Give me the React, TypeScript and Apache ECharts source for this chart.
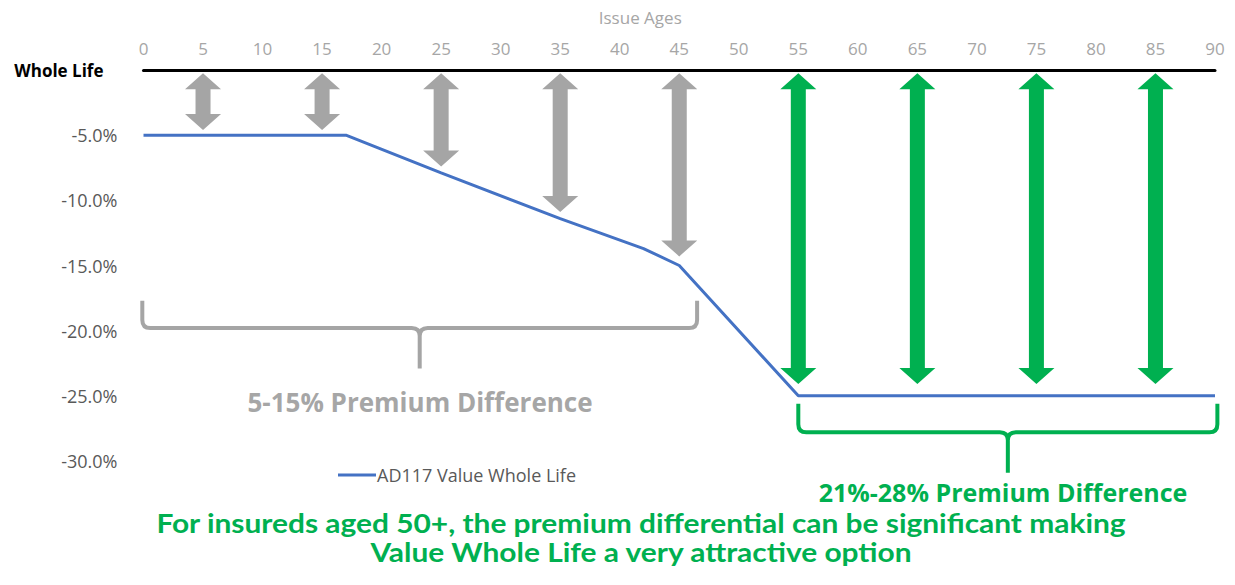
import React, { useEffect, useRef } from "react";
import * as echarts from "echarts";

// Data
const ages = [0, 17, 25, 35, 42, 45, 55, 90];
const premiumDiff = [-5, -5, -7.9, -11.4, -13.7, -15, -25, -25];
const seriesName = "AD117 Value Whole Life";

const arrowAges = [5, 15, 25, 35, 45, 55, 65, 75, 85];
const arrowTop = [-0.25, -0.25, -0.25, -0.25, -0.25, -0.25, -0.25, -0.25, -0.25];
const arrowEnd = [-4.6, -4.6, -7.4, -10.9, -14.3, -24.1, -24.1, -24.1, -24.1];
const arrowColor = ["#A5A5A5", "#A5A5A5", "#A5A5A5", "#A5A5A5", "#A5A5A5", "#00B050", "#00B050", "#00B050", "#00B050"];

// brackets: [startAge, endAge, armTop, barLevel, tipLevel]
const bracketData = [
  [-0.1, 46.5, -17.7, -19.8, -22.9],
  [55, 90.2, -25.6, -27.8, -30.9],
];
const bracketColor = ["#A5A5A5", "#00B050"];

export default function App() {
  const ref = useRef<HTMLDivElement>(null);
  useEffect(() => {
    document.body.style.margin = "0";
    const chart = echarts.init(ref.current!, null, { renderer: "svg" });
    const option: any = {
      animation: false,
      backgroundColor: "#fff",
      grid: { left: 143.5, right: 20, top: 70, bottom: 124 },
      xAxis: {
        type: "value",
        position: "top",
        min: 0,
        max: 90,
        interval: 5,
        name: "Issue Ages",
        nameLocation: "middle",
        nameGap: 44,
        nameTextStyle: { color: "#A6A6A6", fontSize: 17, fontFamily: "Open Sans", padding: [0, 78, 0, 0] },
        axisLine: { show: true, onZero: false, lineStyle: { color: "#000", width: 3 } },
        axisTick: { show: false },
        splitLine: { show: false },
        axisLabel: { color: "#A6A6A6", fontSize: 17, margin: 13, fontFamily: "Open Sans" },
      },
      yAxis: {
        type: "value",
        min: -30,
        max: 0,
        interval: 5,
        axisLine: { show: false },
        axisTick: { show: false },
        splitLine: { show: false },
        axisLabel: {
          margin: 26,
          color: "#595959",
          fontSize: 18,
          fontFamily: "Open Sans",
          formatter: (v: number) => (v === 0 ? "{wl|Whole Life}" : v.toFixed(1) + "%"),
          rich: {
            wl: { fontWeight: "bold", color: "#000", fontSize: 17, fontFamily: "Open Sans", padding: [0, 14, 0, 0] },
          },
        },
      },
      legend: {
        left: 333,
        top: 461,
        data: [seriesName],
        icon: "rect",
        itemWidth: 38,
        itemHeight: 3,
        textStyle: { color: "#595959", fontSize: 18, fontFamily: "Open Sans", padding: [0, 0, 0, -4] },
      },
      series: [
        {
          type: "custom",
          z: 1,
          silent: true,
          data: arrowAges.map((a, i) => [a, arrowTop[i], arrowEnd[i]]),
          encode: { x: 0, y: [1, 2] },
          renderItem: (params: any, api: any) => {
            const p1 = api.coord([api.value(0), api.value(1)]);
            const p2 = api.coord([api.value(0), api.value(2)]);
            const cx = p1[0], y1 = p1[1], y2 = p2[1];
            const hw = 18, sw = 7.5, hh = 16;
            const points = [
              [cx, y1], [cx + hw, y1 + hh], [cx + sw, y1 + hh], [cx + sw, y2 - hh], [cx + hw, y2 - hh],
              [cx, y2], [cx - hw, y2 - hh], [cx - sw, y2 - hh], [cx - sw, y1 + hh], [cx - hw, y1 + hh],
            ];
            return { type: "polygon", shape: { points }, style: { fill: arrowColor[params.dataIndex] } };
          },
        },
        {
          type: "custom",
          z: 1,
          silent: true,
          data: bracketData,
          encode: { x: [0, 1], y: [2, 3, 4] },
          renderItem: (params: any, api: any) => {
            const a = api.coord([api.value(0), api.value(2)]);
            const b = api.coord([api.value(1), api.value(3)]);
            const t = api.coord([(api.value(0) + api.value(1)) / 2, api.value(4)]);
            const x1 = a[0], yt = a[1], x2 = b[0], yh = b[1], xc = t[0], yb = t[1];
            const r = 8;
            const d =
              `M${x1},${yt} L${x1},${yh - r} Q${x1},${yh} ${x1 + r},${yh} L${xc - r},${yh} Q${xc},${yh} ${xc},${yh + r} L${xc},${yb} ` +
              `M${x2},${yt} L${x2},${yh - r} Q${x2},${yh} ${x2 - r},${yh} L${xc + r},${yh} Q${xc},${yh} ${xc},${yh + r}`;
            return {
              type: "path",
              shape: { pathData: d },
              style: { fill: "none", stroke: bracketColor[params.dataIndex], lineWidth: 4 },
            };
          },
        },
        {
          name: seriesName,
          type: "line",
          z: 5,
          data: ages.map((a, i) => [a, premiumDiff[i]]),
          symbol: "none",
          lineStyle: { color: "#4472C4", width: 3 },
          itemStyle: { color: "#4472C4" },
        },
      ],
      graphic: [
        {
          type: "text",
          x: 420,
          y: 402,
          style: {
            text: "5-15% Premium Difference",
            fill: "#A6A6A6",
            font: "bold 26px 'Open Sans'",
            align: "center",
            verticalAlign: "middle",
          },
        },
        {
          type: "text",
          x: 1003,
          y: 492,
          style: {
            text: "21%-28% Premium Difference",
            fill: "#00B050",
            font: "bold 25px 'Open Sans'",
            align: "center",
            verticalAlign: "middle",
          },
        },
        {
          type: "text",
          x: 641,
          y: 523,
          scaleX: 1.15,
          style: {
            text: "For insureds aged 50+, the premium differential can be significant making",
            fill: "#00B050",
            font: "bold 26px Lato",
            align: "center",
            verticalAlign: "middle",
          },
        },
        {
          type: "text",
          x: 641,
          y: 552,
          scaleX: 1.15,
          style: {
            text: "Value Whole Life a very attractive option",
            fill: "#00B050",
            font: "bold 26px Lato",
            align: "center",
            verticalAlign: "middle",
          },
        },
      ],
    };
    chart.setOption(option);
    return () => chart.dispose();
  }, []);
  return <div ref={ref} style={{ width: 1235, height: 585 }} />;
}
